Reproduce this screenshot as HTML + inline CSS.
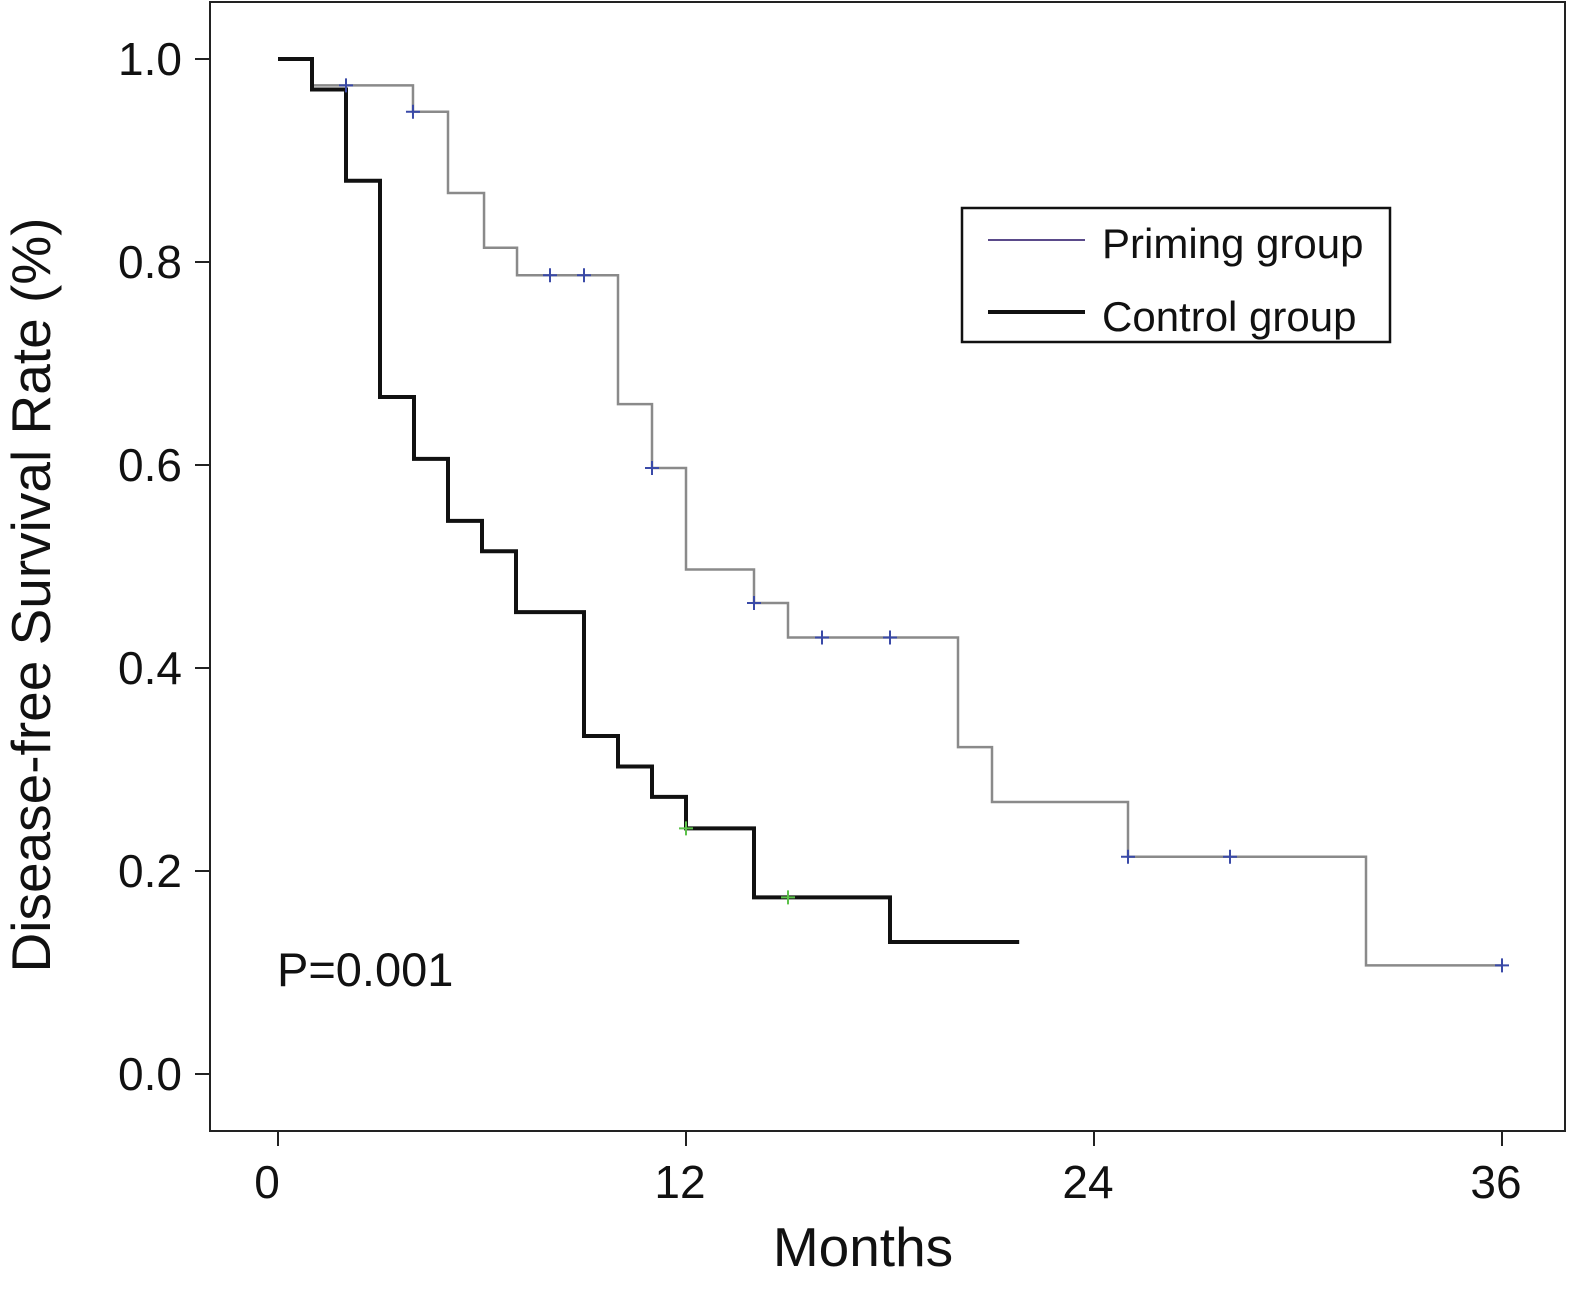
<!DOCTYPE html>
<html><head><meta charset="utf-8"><style>
html,body{margin:0;padding:0;background:#fff;}
svg text{font-family:"Liberation Sans",Arial,sans-serif;fill:#111;}
</style></head><body>
<svg id="chart" width="1570" height="1284" xmlns="http://www.w3.org/2000/svg"></svg>
<script>
const xTicks=[0,12,24,36];
const yTicks=[0.0,0.2,0.4,0.6,0.8,1.0];
const yTickLabels=["0.0","0.2","0.4","0.6","0.8","1.0"];
const primingTimes=[0,1,3.97,5,6.06,7.03,10,11,12,14,15,20,21,25,32,36];
const primingSurv=[1.0,0.974,0.948,0.868,0.814,0.787,0.66,0.597,0.497,0.464,0.43,0.322,0.268,0.214,0.107,0.107];
const primingCensorT=[2,3.97,8,9,11,14,16,18,25,28,36];
const primingCensorS=[0.974,0.948,0.787,0.787,0.597,0.464,0.43,0.43,0.214,0.214,0.107];
const controlTimes=[0,1,2,3,4,5,6,7,9,10,11,12,14,18,21.8];
const controlSurv=[1.0,0.97,0.88,0.667,0.606,0.545,0.515,0.455,0.333,0.303,0.273,0.242,0.174,0.13,0.13];
const controlCensorT=[12,15];
const controlCensorS=[0.242,0.174];

const NS="http://www.w3.org/2000/svg";
const svg=document.getElementById('chart');
const X=t=>278+t*34;
const Y=s=>1074-s*1015;
function mk(tag,attrs,parent){const e=document.createElementNS(NS,tag);for(const k in attrs)e.setAttribute(k,attrs[k]);(parent||svg).appendChild(e);return e;}

const frame=mk('rect',{x:210,y:2,width:1355,height:1129,fill:'none',stroke:'#222','stroke-width':2});



yTicks.forEach((v,i)=>{
  const l=mk('line',{x1:195,x2:210,y1:Y(v),y2:Y(v),stroke:'#222','stroke-width':2});
  
  
  const t=mk('text',{x:182,y:Y(v)+16,'text-anchor':'end','font-size':46});
  t.textContent=yTickLabels[i];
  
  
});
xTicks.forEach(v=>{
  const l=mk('line',{x1:X(v),x2:X(v),y1:1131,y2:1146,stroke:'#222','stroke-width':2});
  
  
  const t=mk('text',{x:X(v)-(v===0?11:6),y:1198,'text-anchor':'middle','font-size':46});
  t.textContent=String(v);
  
  
});

const yt=mk('text',{x:0,y:0,'text-anchor':'middle','font-size':55,transform:'translate(50,595) rotate(-90)'});
yt.textContent='Disease-free Survival Rate (%)';


const xt=mk('text',{x:863,y:1266,'text-anchor':'middle','font-size':55});
xt.textContent='Months';



function stepPath(ts,ss){let d=`M${X(ts[0])},${Y(ss[0])}`;for(let i=1;i<ts.length;i++){d+=` H${X(ts[i])} V${Y(ss[i])}`;}return d;}
const pp=mk('path',{d:stepPath(primingTimes,primingSurv),fill:'none',stroke:'#8a8a8a','stroke-width':2.5});


const cp=mk('path',{d:stepPath(controlTimes,controlSurv),fill:'none',stroke:'#111','stroke-width':4});



function cross(t,s,col,name){
  const g=mk('path',{d:`M${X(t)-7},${Y(s)} H${X(t)+7} M${X(t)},${Y(s)-7} V${Y(s)+7}`,stroke:col,'stroke-width':2,fill:'none'});
  
  
}
primingCensorT.forEach((t,i)=>cross(t,primingCensorS[i],'#3a4aa8','priming-censor-mark'));
controlCensorT.forEach((t,i)=>cross(t,controlCensorS[i],'#5cc24a','control-censor-mark'));

const p=mk('text',{x:277,y:986,'font-size':47});
p.textContent='P=0.001';



const lg=mk('g',{});


mk('rect',{x:962,y:208,width:428,height:134,fill:'#fff',stroke:'#111','stroke-width':2.5},lg);
const l1=mk('line',{x1:988,x2:1085,y1:240,y2:240,stroke:'#5a4a8a','stroke-width':2},lg);


const t1=mk('text',{x:1102,y:258,'font-size':42},lg);
t1.textContent='Priming group';


const l2=mk('line',{x1:988,x2:1085,y1:312,y2:312,stroke:'#111','stroke-width':4},lg);


const t2=mk('text',{x:1102,y:331,'font-size':42},lg);
t2.textContent='Control group';


</script>
</body></html>
